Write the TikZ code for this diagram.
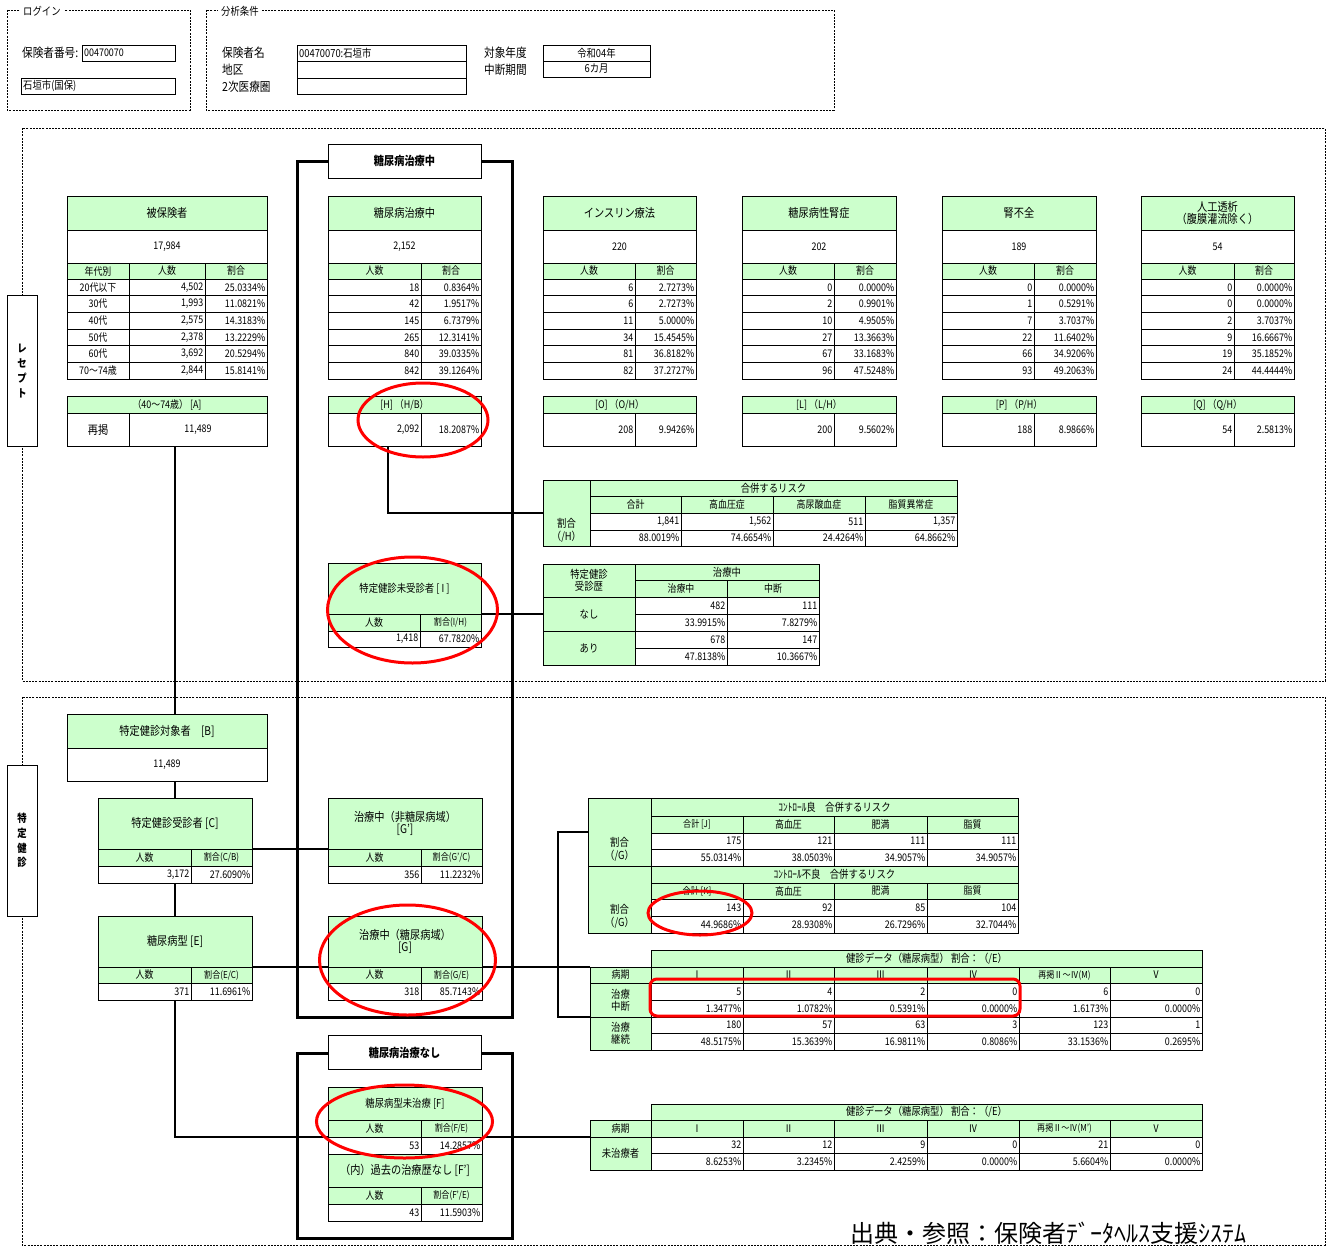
\documentclass[tikz,border=0pt]{standalone}
\usepackage{fontspec}
\setmainfont[FakeStretch=0.85]{Noto Sans CJK JP}
\newfontfamily\plainjp{Noto Sans CJK JP}
\definecolor{gfill}{RGB}{204,255,204}
\newcommand\fA{\fontsize{10.5}{12}\selectfont}
\newcommand\fS{\fontsize{9.5}{11}\selectfont}
\newcommand\fM{\fontsize{11}{13}\selectfont}
\newcommand\fT{\fontsize{12}{14.5}\selectfont}
\newcounter{nc}
\newcommand\Gc[5]{\stepcounter{nc}\draw[gcell] (#1,#2) rectangle (#3,#4);\node[txt] (c\arabic{nc}) at ({(#1+#3)/2},{(#2+#4)/2}) {#5};}
\newcommand\Wc[5]{\stepcounter{nc}\draw[wcell] (#1,#2) rectangle (#3,#4);\node[txt] (c\arabic{nc}) at ({(#1+#3)/2},{(#2+#4)/2}) {#5};}
\newcommand\Rc[5]{\stepcounter{nc}\draw[wcell] (#1,#2) rectangle (#3,#4);\node[txt,anchor=east] (c\arabic{nc}) at ({#3-1.5},{(#2+#4)/2}) {#5};}
\newcommand\Lc[5]{\stepcounter{nc}\draw[hcell] (#1,#2) rectangle (#3,#4);\node[txt,anchor=west] (c\arabic{nc}) at ({#1+2},{(#2+#4)/2}) {#5};}
% receipt table with two columns
\newcommand\RT[6]{%
  \Gc{#1}{196}{#3}{230}{\fT #4}%
  \Wc{#1}{230}{#3}{263}{#5}%
  \Gc{#1}{263}{#2}{279}{人数}%
  \Gc{#2}{263}{#3}{279}{割合}%
  \foreach \va/\vb [count=\i from 0] in {#6}{%
    \pgfmathsetmacro\ya{279+\i*16.6667}%
    \pgfmathsetmacro\yb{\ya+16.6667}%
    \Rc{#1}{\ya}{#2}{\yb}{\va}%
    \Rc{#2}{\ya}{#3}{\yb}{\vb}}%
  \draw[tblout] (#1,196) rectangle (#3,379);}
\newcommand\RB[6]{\Gc{#1}{396}{#3}{413}{#4}\Rc{#1}{413}{#2}{446}{#5}\Rc{#2}{413}{#3}{446}{#6}\draw[tblout] (#1,396) rectangle (#3,446);}
\newcommand\Crow[6]{\Rc{651}{#1}{743}{#2}{#3}\Rc{743}{#1}{834}{#2}{#4}\Rc{834}{#1}{927}{#2}{#5}\Rc{927}{#1}{1018}{#2}{#6}}
\newcommand\Drow[8]{\Rc{651}{#1}{743}{#2}{#3}\Rc{743}{#1}{834}{#2}{#4}\Rc{834}{#1}{927}{#2}{#5}\Rc{927}{#1}{1019}{#2}{#6}\Rc{1019}{#1}{1110}{#2}{#7}\Rc{1110}{#1}{1202}{#2}{#8}}
\newcommand\Dhead[2]{\Gc{590}{#1}{651}{#2}{病期}\Gc{651}{#1}{743}{#2}{Ⅰ}\Gc{743}{#1}{834}{#2}{Ⅱ}\Gc{834}{#1}{927}{#2}{Ⅲ}\Gc{927}{#1}{1019}{#2}{Ⅳ}}
\begin{document}
\begin{tikzpicture}[x=1pt,y=-1pt,
  gcell/.style={draw=black,line width=0.5pt,fill=gfill},
  wcell/.style={draw=black,line width=0.5pt,fill=white},
  hcell/.style={draw=black,line width=0.9pt,fill=white},
  tblout/.style={draw=black,line width=1pt},
  txt/.style={inner sep=0pt,font=\fA,align=center},
  hd/.style={inner sep=0pt,font=\fontsize{12.5}{14}\selectfont,anchor=west},
  lbl/.style={fill=white,inner xsep=3pt,inner ysep=1pt,font=\fM,anchor=west},
  dsh/.style={line width=0.7pt,dash pattern=on 2pt off 1.2pt},
  thickframe/.style={line width=3pt},
  conn/.style={line width=2pt},
  ttl/.style={draw=black,line width=0.8pt,fill=white,minimum width=153pt,minimum height=34pt,inner sep=0pt,font=\bfseries\fontsize{12}{14}\selectfont},
  side/.style={draw=black,line width=0.8pt,fill=white,minimum width=30pt,minimum height=151pt,inner sep=0pt,align=center,font=\bfseries\fontsize{11}{14.8}\selectfont},
  redmark/.style={draw=red,line width=3pt}]
\fill[white] (0,0) rectangle (1330,1247);
\useasboundingbox (0,0) rectangle (1330,1247);

% ---------------- header ----------------
\draw[dsh] (7,10) rectangle (190,110);
\node[lbl] (login) at (20,11) {ログイン};
\node[hd] (hno) at (22,53) {保険者番号:};
\Lc{82}{45}{175}{61}{00470070}
\Lc{21}{78}{175}{94}{\fM 石垣市(国保)}
\draw[dsh] (206,10) rectangle (834,110);
\node[lbl] (cond) at (218,11) {分析条件};
\node[hd] (hname) at (222,53) {保険者名};
\node[hd] (harea) at (222,70) {地区};
\node[hd] (hmed) at (222,87) {2次医療圏};
\Lc{297}{45}{466}{61}{\fM 00470070:石垣市}
\Lc{297}{61}{466}{78}{}
\Lc{297}{78}{466}{94}{}
\node[hd] (hyear) at (484,53) {対象年度};
\node[hd] (hint) at (484,70) {中断期間};
\Wc{543}{45}{650}{61}{\fM 令和04年}
\Wc{543}{61}{650}{77}{\fM 6カ月}

% ---------------- sections ----------------
\draw[dsh] (22,128) rectangle (1325,681);
\draw[dsh] (22,697) rectangle (1325,1245);
\node[side] (rece) at (22,371) {レ\\セ\\プ\\ト};
\node[side] (kenshin) at (22,840.5) {特\\定\\健\\診};

% thick frames
\draw[thickframe] (297,161) rectangle (512,1017);
\draw[thickframe] (297,1053) rectangle (512,1238);
\node[ttl] (tchu) at (404.5,161) {糖尿病治療中};
\node[ttl] (tnashi) at (404.5,1052.5) {糖尿病治療なし};

% ---------------- connectors ----------------
\coordinate (A1) at (175,446); \coordinate (B0) at (175,714);
\coordinate (B1) at (175,781); \coordinate (C0) at (175,798);
\coordinate (C1) at (175,883); \coordinate (E0) at (175,916);
\coordinate (E1) at (175,1000); \coordinate (Fk) at (175,1137); \coordinate (F0) at (328,1137);
\coordinate (F1) at (482,1137); \coordinate (U0) at (590,1137);
\coordinate (Cr) at (252,849); \coordinate (Gp0) at (328,849);
\coordinate (Er) at (252,967); \coordinate (G0) at (328,967);
\coordinate (G1) at (482,967); \coordinate (K0) at (590,967);
\coordinate (Jk) at (558,832); \coordinate (J0) at (588,832);
\coordinate (Tk) at (558,1017); \coordinate (T0) at (590,1017);
\coordinate (H1) at (388,446); \coordinate (Hk) at (388,513); \coordinate (R0) at (543,513);
\coordinate (I1) at (481,614); \coordinate (S0) at (543,614);
\draw[conn] (A1) -- (B0);
\draw[conn] (B1) -- (C0);
\draw[conn] (C1) -- (E0);
\draw[conn] (E1) -- (Fk) -- (F0);
\draw[conn] (F1) -- (U0);
\draw[conn] (Cr) -- (Gp0);
\draw[conn] (Er) -- (G0);
\draw[conn] (G1) -- (K0);
\draw[conn] (J0) -- (Jk) -- (Tk) -- (T0);
\draw[conn] (H1) -- (Hk) -- (R0);
\draw[conn] (I1) -- (S0);

% ---------------- receipt tables ----------------
\Gc{67}{196}{267}{230}{\fT 被保険者}
\Wc{67}{230}{267}{263}{17,984}
\Gc{67}{263}{129}{279}{年代別}
\Gc{129}{263}{205}{279}{人数}
\Gc{205}{263}{267}{279}{割合}
\foreach \vl/\va/\vb [count=\i from 0] in {20代以下/{4,502}/25.0334\%, 30代/{1,993}/11.0821\%, 40代/{2,575}/14.3183\%, 50代/{2,378}/13.2229\%, 60代/{3,692}/20.5294\%, 70～74歳/{2,844}/15.8141\%}{%
  \pgfmathsetmacro\ya{279+\i*16.6667}%
  \pgfmathsetmacro\yb{\ya+16.6667}%
  \Wc{67}{\ya}{129}{\yb}{\vl}%
  \Rc{129}{\ya}{205}{\yb}{\va}%
  \Rc{205}{\ya}{267}{\yb}{\vb}}
\draw[tblout] (67,196) rectangle (267,379);

\RT{328}{421}{481}{糖尿病治療中}{2,152}{18/0.8364\%, 42/1.9517\%, 145/6.7379\%, 265/12.3141\%, 840/39.0335\%, 842/39.1264\%}
\RT{543}{635}{696}{インスリン療法}{220}{6/2.7273\%, 6/2.7273\%, 11/5.0000\%, 34/15.4545\%, 81/36.8182\%, 82/37.2727\%}
\RT{742}{834}{896}{糖尿病性腎症}{202}{0/0.0000\%, 2/0.9901\%, 10/4.9505\%, 27/13.3663\%, 67/33.1683\%, 96/47.5248\%}
\RT{942}{1034}{1096}{腎不全}{189}{0/0.0000\%, 1/0.5291\%, 7/3.7037\%, 22/11.6402\%, 66/34.9206\%, 93/49.2063\%}
\RT{1141}{1234}{1294}{人工透析\\\fT（腹膜灌流除く）}{54}{0/0.0000\%, 0/0.0000\%, 2/3.7037\%, 9/16.6667\%, 19/35.1852\%, 24/44.4444\%}

\Gc{67}{396}{267}{413}{（40～74歳）\ [A]}
\Wc{67}{413}{129}{446}{\fT 再掲}
\Wc{129}{413}{267}{446}{11,489}
\draw[tblout] (67,396) rectangle (267,446);
\RB{328}{421}{481}{[H]\ （H/B）}{2,092}{18.2087\%}
\RB{543}{635}{696}{[O]\ （O/H）}{208}{9.9426\%}
\RB{742}{834}{896}{[L]\ （L/H）}{200}{9.5602\%}
\RB{942}{1034}{1096}{[P]\ （P/H）}{188}{8.9866\%}
\RB{1141}{1234}{1294}{[Q]\ （Q/H）}{54}{2.5813\%}

% 合併するリスク
\Gc{543}{480}{590}{546}{}
\node[txt,font=\fM] (wariH) at (566.5,530) {割合\\\fM（/H）};
\Gc{590}{480}{957}{496}{\fM 合併するリスク}
\Gc{590}{496}{681}{513}{合計}
\Gc{681}{496}{773}{513}{高血圧症}
\Gc{773}{496}{865}{513}{高尿酸血症}
\Gc{865}{496}{957}{513}{脂質異常症}
\Rc{590}{513}{681}{530}{1,841}
\Rc{681}{513}{773}{530}{1,562}
\Rc{773}{513}{865}{530}{511}
\Rc{865}{513}{957}{530}{1,357}
\Rc{590}{530}{681}{546}{88.0019\%}
\Rc{681}{530}{773}{546}{74.6654\%}
\Rc{773}{530}{865}{546}{24.4264\%}
\Rc{865}{530}{957}{546}{64.8662\%}
\draw[tblout] (543,480) rectangle (957,546);

% 特定健診未受診者
\Gc{328}{563}{481}{614}{\fM 特定健診未受診者 [ I ]}
\Gc{328}{614}{420}{631}{人数}
\Gc{420}{614}{481}{631}{\fS 割合(I/H)}
\Rc{328}{631}{420}{647}{1,418}
\Rc{420}{631}{481}{647}{67.7820\%}
\draw[tblout] (328,563) rectangle (481,647);

% 特定健診受診歴
\Gc{543}{564}{635}{597}{\fM 特定健診\\\fM 受診歴}
\Gc{635}{564}{819}{580}{\fM 治療中}
\Gc{635}{580}{727}{597}{治療中}
\Gc{727}{580}{819}{597}{中断}
\Gc{543}{597}{635}{631}{\fM なし}
\Gc{543}{631}{635}{665}{\fM あり}
\Rc{635}{597}{727}{614}{482}
\Rc{727}{597}{819}{614}{111}
\Rc{635}{614}{727}{631}{33.9915\%}
\Rc{727}{614}{819}{631}{7.8279\%}
\Rc{635}{631}{727}{648}{678}
\Rc{727}{631}{819}{648}{147}
\Rc{635}{648}{727}{665}{47.8138\%}
\Rc{727}{648}{819}{665}{10.3667\%}
\draw[tblout] (543,564) rectangle (819,665);

% ---------------- 特定健診 section ----------------
\Gc{67}{714}{267}{748}{\fT 特定健診対象者　[B]}
\Wc{67}{748}{267}{781}{11,489}
\draw[tblout] (67,714) rectangle (267,781);

\Gc{98}{798}{252}{849}{\fT 特定健診受診者 [C]}
\Gc{98}{849}{191}{866}{人数}
\Gc{191}{849}{252}{866}{\fS 割合(C/B)}
\Rc{98}{866}{191}{883}{3,172}
\Rc{191}{866}{252}{883}{27.6090\%}
\draw[tblout] (98,798) rectangle (252,883);

\Gc{98}{916}{252}{967}{\fT 糖尿病型 [E]}
\Gc{98}{967}{191}{983}{人数}
\Gc{191}{967}{252}{983}{\fS 割合(E/C)}
\Rc{98}{983}{191}{1000}{371}
\Rc{191}{983}{252}{1000}{11.6961\%}
\draw[tblout] (98,916) rectangle (252,1000);

\Gc{328}{798}{482}{849}{\fT 治療中（非糖尿病域）\\\fT {}[G']}
\Gc{328}{849}{421}{866}{人数}
\Gc{421}{849}{482}{866}{\fS 割合(G'/C)}
\Rc{328}{866}{421}{883}{356}
\Rc{421}{866}{482}{883}{11.2232\%}
\draw[tblout] (328,798) rectangle (482,883);

\Gc{328}{916}{482}{967}{\fT 治療中（糖尿病域）\\\fT {}[G]}
\Gc{328}{967}{421}{983}{人数}
\Gc{421}{967}{482}{983}{\fS 割合(G/E)}
\Rc{328}{983}{421}{1000}{318}
\Rc{421}{983}{482}{1000}{85.7143\%}
\draw[tblout] (328,916) rectangle (482,1000);

% コントロール table
\Gc{588}{798}{651}{866}{}
\node[txt,font=\fM] (wariG1) at (619.5,849.5) {割合\\\fM（/G）};
\Gc{651}{798}{1018}{816}{\fM ｺﾝﾄﾛｰﾙ良　合併するリスク}
\Gc{651}{816}{743}{833}{\fS 合計 [J]}
\Gc{743}{816}{834}{833}{高血圧}
\Gc{834}{816}{927}{833}{肥満}
\Gc{927}{816}{1018}{833}{脂質}
\Crow{833}{849}{175}{121}{111}{111}
\Crow{849}{866}{55.0314\%}{38.0503\%}{34.9057\%}{34.9057\%}
\Gc{588}{866}{651}{933}{}
\node[txt,font=\fM] (wariG2) at (619.5,916) {割合\\\fM（/G）};
\Gc{651}{866}{1018}{883}{\fM ｺﾝﾄﾛｰﾙ不良　合併するリスク}
\Gc{651}{883}{743}{899}{\fS 合計 [K]}
\Gc{743}{883}{834}{899}{高血圧}
\Gc{834}{883}{927}{899}{肥満}
\Gc{927}{883}{1018}{899}{脂質}
\Crow{899}{916}{143}{92}{85}{104}
\Crow{916}{933}{44.9686\%}{28.9308\%}{26.7296\%}{32.7044\%}
\draw[tblout] (588,798) rectangle (1018,933);

% 健診データ (upper)
\Gc{651}{950}{1202}{967}{\fM 健診データ（糖尿病型）\ 割合：（/E）}
\Dhead{967}{983}
\Gc{1019}{967}{1110}{983}{\fS 再掲Ⅱ～Ⅳ(M)}
\Gc{1110}{967}{1202}{983}{Ⅴ}
\Gc{590}{983}{651}{1017}{\fM 治療\\\fM 中断}
\Gc{590}{1017}{651}{1050}{\fM 治療\\\fM 継続}
\Drow{983}{1000}{5}{4}{2}{0}{6}{0}
\Drow{1000}{1017}{1.3477\%}{1.0782\%}{0.5391\%}{0.0000\%}{1.6173\%}{0.0000\%}
\Drow{1017}{1033}{180}{57}{63}{3}{123}{1}
\Drow{1033}{1050}{48.5175\%}{15.3639\%}{16.9811\%}{0.8086\%}{33.1536\%}{0.2695\%}
\draw[tblout] (590,967) -| (1202,1050) -| (590,967);
\draw[tblout] (651,950) rectangle (1202,967);

% 健診データ (lower)
\Gc{651}{1104}{1202}{1120}{\fM 健診データ（糖尿病型）\ 割合：（/E）}
\Dhead{1120}{1137}
\Gc{1019}{1120}{1110}{1137}{\fS 再掲Ⅱ～Ⅳ(M')}
\Gc{1110}{1120}{1202}{1137}{Ⅴ}
\Gc{590}{1137}{651}{1170}{\fM 未治療者}
\Drow{1137}{1153}{32}{12}{9}{0}{21}{0}
\Drow{1153}{1170}{8.6253\%}{3.2345\%}{2.4259\%}{0.0000\%}{5.6604\%}{0.0000\%}
\draw[tblout] (590,1120) -| (1202,1170) -| (590,1120);
\draw[tblout] (651,1104) rectangle (1202,1120);

% 糖尿病型未治療
\Gc{328}{1087}{482}{1120}{\fM 糖尿病型未治療 [F]}
\Gc{328}{1120}{421}{1137}{人数}
\Gc{421}{1120}{482}{1137}{\fS 割合(F/E)}
\Rc{328}{1137}{421}{1154}{53}
\Rc{421}{1137}{482}{1154}{14.2857\%}
\Gc{328}{1154}{482}{1187}{\fT （内）過去の治療歴なし [F']}
\Gc{328}{1187}{421}{1204}{人数}
\Gc{421}{1187}{482}{1204}{\fS 割合(F'/E)}
\Rc{328}{1204}{421}{1221}{43}
\Rc{421}{1204}{482}{1221}{11.5903\%}
\draw[tblout] (328,1087) rectangle (482,1221);

% ---------------- red marks ----------------
\draw[redmark] (423,420) ellipse [x radius=65pt, y radius=37pt];
\draw[redmark] (412.5,610) ellipse [x radius=85pt, y radius=53pt];
\draw[redmark] (407.5,960) ellipse [x radius=88pt, y radius=55pt];
\draw[redmark] (404.5,1121.5) ellipse [x radius=88pt, y radius=36.5pt];
\draw[redmark] (700,913) ellipse [x radius=52pt, y radius=22pt];
\draw[redmark, rounded corners=7pt] (650,979) rectangle (1020,1016);

% footer
\node[anchor=base west,inner sep=0pt,font=\plainjp\fontsize{24}{27}\selectfont] (src) at (850,1242) {出典・参照：保険者ﾃﾞｰﾀﾍﾙｽ支援ｼｽﾃﾑ};
\end{tikzpicture}
\end{document}
